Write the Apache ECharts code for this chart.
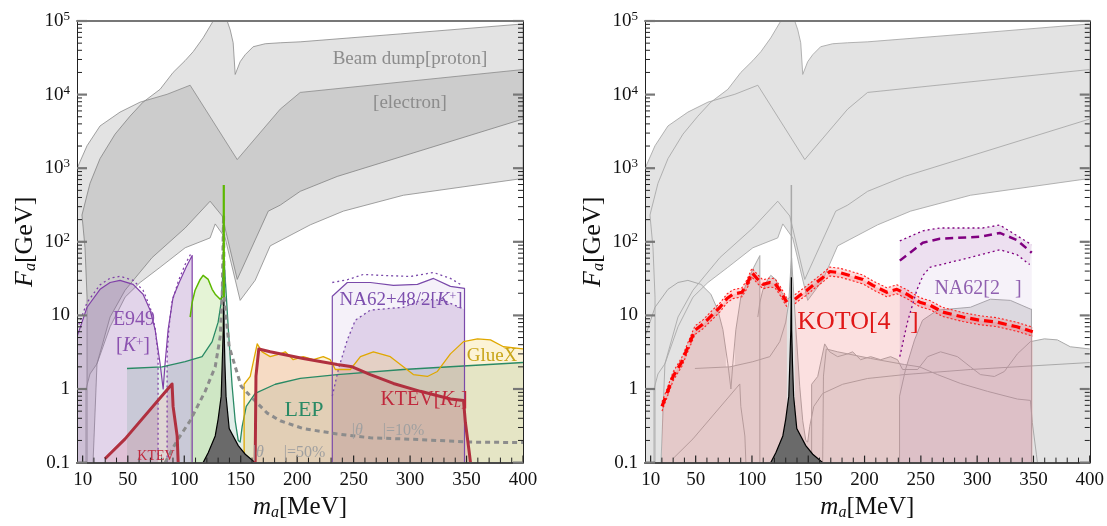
<!DOCTYPE html>
<html><head><meta charset="utf-8">
<script src="https://cdn.jsdelivr.net/npm/echarts@6/dist/echarts.min.js"></script>
<style>html,body{margin:0;background:#fff}#c{width:1107px;height:526px}</style>
</head><body><div id="c"></div>
<script>
// ---------- tick labels ----------
const xMajor = [10, 50, 100, 150, 200, 250, 300, 350, 400];
const yMajor = [0.1, 1, 10, 100, 1000, 10000, 100000];

// ---------- beam dump regions [m (MeV), F (GeV)] ----------
const protonUpper = [[13.9,0.1],[13.9,17.7],[12.1,83],[9.4,231],[16.5,622],[25.4,1350],[38.7,2900],[52,5100],[63.5,7900],[78.6,11800],[90.1,20000],[100.8,29000],[107.9,38300],[116.7,59000],[125.6,100000],[138,100000],[140.7,75700],[143.3,50600],[145.1,18800],[149.5,28000],[154,34900],[161,44700],[171.7,49100],[185,50600],[202.7,52100],[291.4,66800],[400,91200]];
const protonLower = [[400,4660],[235.5,773],[202.7,485],[185,315],[174.4,261],[146.9,30.8],[133.6,224],[122.9,356],[100.8,154],[71.5,61],[47.6,22],[34.3,9.5],[22.7,2.2],[19.2,0.1]];
const electronUpper = [[5,990],[13.9,2020],[25.4,3750],[43.1,5780],[60.9,7900],[84.8,10100],[105.2,13400],[146.9,1310],[185,6350],[202.7,10700],[400,21900]];
const electronLower = [[400,726],[294,429],[240.9,261],[211.6,170],[176.1,88],[162.8,30],[149.5,16],[136.2,113],[127.4,175],[122.9,113],[100.8,83],[78.6,45],[60.9,28],[47.6,17.7],[34.3,7],[22.7,2.2],[16.5,1.6],[13,1.0],[13,0.1],[5,0.1]];

// ---------- E949 [K+] ----------
const e949Solid = [[5,5.1],[13.9,12.9],[25.4,22.6],[34.3,28],[43.1,29.9],[54.7,26.4],[63.5,19.4],[69.7,11.8],[74.2,6.4],[78.6,2.2],[81.3,1.0],[83,2.2],[85.7,6.4],[90.1,17.7],[96.3,29.9],[101.6,45],[107,65],[107,0.1]];
const e949LobeL = [[5,0.1],[5,5.1],[13.9,12.9],[25.4,22.6],[34.3,28],[43.1,29.9],[54.7,26.4],[63.5,19.4],[69.7,11.8],[74.2,6.4],[76.8,3.5],[76.8,0.1]];
const e949LobeR = [[84.8,0.1],[84.8,4],[85.7,6.4],[90.1,17.7],[96.3,29.9],[101.6,45],[107,65],[107,0.1]];
const e949DotL = [[5,6.5],[13.9,15],[25.4,26],[34.3,32],[43.1,34],[54.7,30],[63.5,22],[69.7,13],[74,7],[76.8,3],[76.8,0.1]];
const e949DotR = [[84.8,0.1],[84.8,3],[86.5,7],[89,15],[95,30],[101,50],[106.5,72]];

// ---------- LEP, green, GlueX, KTEV ----------
const lepLine = [[49.3,1.9],[80.4,2.0],[100.8,2.35],[115.8,2.75],[124.7,4.4],[130,8.1],[132.7,15],[134.5,45],[135.2,60],[136.2,33],[138.9,7],[142.4,1.09],[145.1,0.37],[147.8,0.2],[149.5,0.19],[151.3,0.31],[154.9,0.58],[162.8,0.87],[180.6,1.16],[202.7,1.39],[235.5,1.57],[294,1.84],[400,2.29]];
const greenLine = [[105.2,9.5],[107,15],[109.6,22],[114.1,30.8],[116.7,35],[121.2,30.8],[124.7,22.6],[127.4,19.4],[131.8,16.6],[133.6,17.7],[135,17.7]];
const greenPeak = [[135,17.7],[135,590]];
const gluexLine = [[153,0.1],[153,1.16],[158.4,1.48],[164.6,4.1],[169,3.2],[176.1,2.75],[185,3.0],[189.4,3.2],[196.5,2.5],[205.4,2.75],[214.3,2.5],[223.1,2.75],[229.3,2.5],[233.8,1.84],[247.1,1.84],[256,2.75],[267.5,3.2],[282.5,2.75],[294,2.0],[302.9,1.57],[315.3,1.48],[324.2,1.73],[335.7,3.0],[347.3,4.4],[359.7,4.8],[371.2,4.65],[382.7,3.75],[400,3.5]];
const ktevSmall = [[29.8,0.113],[47.6,0.21],[89.2,1.17],[90.1,0.58],[93.7,0.23],[94.6,0.1]];
const ktevKL = [[162.8,0.1],[163.5,1.5],[166,3.5],[176.1,3.2],[205.4,2.6],[235.5,2.15],[248.8,2.0],[264.8,1.57],[285.2,1.19],[309.1,0.93],[335.7,0.73],[347.3,0.70],[349,0.35],[352.6,0.13],[353.5,0.1]];
const thetaLine = [[83,0.1],[93.7,0.2],[105.2,0.37],[118.5,0.93],[127.4,2.0],[131.8,5.1],[133.6,17.7],[134.8,230],[135.3,17.7],[139.8,3.75],[150.4,1.09],[161,0.73],[173.5,0.47],[185,0.37],[205.4,0.29],[235.5,0.245],[264.8,0.217],[294,0.21],[324.2,0.2],[353.5,0.19],[400,0.187]];

// ---------- NA62+48/2 [K+] ----------
const na62Solid = [[231.1,0.1],[231.1,18.2],[244.4,28],[264.8,28],[285.2,25.6],[306.5,26.4],[320.7,31.8],[335.7,24.8],[348.2,23.3],[348.2,0.1]];
const na62DotOuter = [[231.1,28],[244.4,30.5],[258.6,36],[273.7,35],[300.3,33.8],[320.7,38.3],[335.7,31.8],[344.6,26.4]];
const na62DotInner = [[231.1,0.8],[236.4,1.84],[244.4,4.65],[251.5,8.6],[264.8,11.8],[294,12.9],[311.8,16.6],[329.5,16],[347.3,12.2]];

// ---------- pion pole ----------
const pionPeak = [[116.7,0.1],[121.2,0.136],[127.4,0.23],[130,0.39],[132.7,0.8],[133.6,2.2],[134.5,6.3],[135,33],[135.3,6.3],[136,2.2],[137,0.8],[139.8,0.29],[147.8,0.17],[154,0.13],[162.8,0.1]];

// ---------- KOTO [4 gamma] (right panel) ----------
const kotoA = [[20.1,0.58],[24.5,0.87],[29.9,1.48],[37.8,2.35],[43.2,3.75],[49.4,6.3],[56.5,7.6],[65.4,10.4],[71.6,12.9],[77.8,17],[83.1,19.4],[91.1,20.6],[95.5,26.4],[100,38],[105.3,30.8],[109.7,26.4],[116,28],[120.4,27.3],[124.8,21.9],[129.3,16.6],[131,15.1]];
const kotoAHi = [[20.1,0.67],[24.5,1.0],[29.9,1.7],[37.8,2.7],[43.2,4.3],[49.4,7.2],[56.5,8.7],[65.4,12],[71.6,14.8],[77.8,19.5],[83.1,22.3],[91.1,23.7],[95.5,30.4],[100,43.7],[105.3,35.4],[109.7,30.4],[116,32.2],[120.4,31.4],[124.8,25.2],[129.3,19.1],[131,17.4]];
const kotoALo = [[20.1,0.5],[24.5,0.76],[29.9,1.29],[37.8,2.04],[43.2,3.26],[49.4,5.5],[56.5,6.6],[65.4,9.0],[71.6,11.2],[77.8,14.8],[83.1,16.9],[91.1,17.9],[95.5,23],[100,33],[105.3,26.8],[109.7,23],[116,24.3],[120.4,23.7],[124.8,19],[129.3,14.4],[131,13.1]];
const kotoB = [[138.1,16.6],[142.6,18.8],[148.8,21.9],[154.1,25.6],[163,32.8],[169.2,39.5],[178.1,38],[187,34.8],[198.5,30.8],[207.4,25.6],[219.8,20.6],[228.7,22.6],[237.6,19.4],[249.1,15.1],[258,13.8],[269.5,11.1],[287.3,9.5],[302.3,8.6],[317.4,8.1],[335.2,7.0],[349.4,6.0]];
const kotoBHi = [[138.1,19.1],[142.6,21.6],[148.8,25.2],[154.1,29.4],[163,37.7],[169.2,45.4],[178.1,43.7],[187,40],[198.5,35.4],[207.4,29.4],[219.8,23.7],[228.7,26],[237.6,22.3],[249.1,17.4],[258,15.9],[269.5,12.8],[287.3,10.9],[302.3,9.9],[317.4,9.3],[335.2,8.05],[349.4,6.9]];
const kotoBLo = [[138.1,14.4],[142.6,16.3],[148.8,19],[154.1,22.3],[163,28.5],[169.2,34.3],[178.1,33],[187,30.3],[198.5,26.8],[207.4,22.3],[219.8,17.9],[228.7,19.7],[237.6,16.9],[249.1,13.1],[258,12],[269.5,9.65],[287.3,8.26],[302.3,7.48],[317.4,7.04],[335.2,6.09],[349.4,5.22]];

// ---------- NA62 [2 gamma] (right panel) ----------
const na62gMain = [[231.3,55.5],[251.7,97],[266.8,110],[302.3,117],[320.1,132],[335.2,106],[348.5,71]];
const na62gHi = [[231.3,103],[251.7,141],[266.8,154],[305,154],[320.1,169],[348.5,91]];
const na62gLo = [[231.3,2.75],[238,8],[246.4,22],[252,35],[258,45],[264.2,47.5],[293.5,61],[320.1,78],[335.2,67],[346.7,49]];

// ================= build =================
const FF = 'Liberation Serif';
const AX = [{x:0, y:0}, {x:2, y:2}];
const series = [];
function closeDown(line){ return [[line[0][0],0.1]].concat(line).concat([[line[line.length-1][0],0.1]]); }
function shape(panel, pts, kind, style){
  series.push({
    type:'custom', xAxisIndex:AX[panel].x, yAxisIndex:AX[panel].y, clip:true, silent:true,
    data: pts,
    renderItem: function(params, api){
      if (params.dataIndex !== 0) return null;
      const c = pts.map(function(p){ return api.coord(p); });
      return {type: kind, shape:{points:c}, style: style};
    }
  });
}
function area(panel, pts, fill, stroke, lw){ shape(panel, pts, 'polygon', {fill:fill, stroke:stroke||null, lineWidth:lw||0}); }
function line(panel, pts, stroke, lw, dash){ shape(panel, pts, 'polyline', {fill:null, stroke:stroke, lineWidth:lw, lineDash:dash||null, lineJoin:'round'}); }
// tick marks: each one a short segment starting at an axis value, drawn with the axis scale
function ticks(panel, pts, dx, dy, color, w){
  series.push({
    type:'custom', xAxisIndex:AX[panel].x, yAxisIndex:AX[panel].y, clip:false, silent:true, z:20,
    data: pts,
    renderItem: function(params, api){
      if (params.dataIndex !== 0) return null;
      const kids = pts.map(function(p){
        const c = api.coord(p);
        return {type:'polyline', shape:{points:[[c[0], c[1]], [c[0]+dx, c[1]+dy]]}, style:{stroke:color, lineWidth:w, fill:null}};
      });
      return {type:'group', children:kids};
    }
  });
}

const proton = protonUpper.concat(protonLower);
const electron = electronUpper.concat(electronLower);
const na62Inner = [[231.1,0.1]].concat(na62DotInner).concat([[348.2,12.2],[348.2,0.1]]);

// ----- left panel -----
area(0, proton, 'rgba(100,100,100,0.18)', '#8a8a8a', 0.8);
area(0, electron, 'rgba(100,100,100,0.18)', '#8a8a8a', 0.8);
area(0, e949LobeL, 'rgba(150,100,180,0.28)');
area(0, e949LobeR, 'rgba(150,100,180,0.28)');
area(0, na62Solid, 'rgba(160,120,200,0.10)');
area(0, na62Inner, 'rgba(150,100,180,0.22)');
area(0, closeDown(lepLine), 'rgba(60,140,110,0.15)');
area(0, closeDown(greenLine), 'rgba(150,210,90,0.25)');
area(0, gluexLine.concat([[400,0.1]]), 'rgba(240,200,70,0.22)');
area(0, closeDown(ktevSmall), 'rgba(210,80,90,0.14)');
area(0, ktevKL, 'rgba(210,80,90,0.14)');
line(0, e949Solid, '#8040a8', 1.2);
line(0, e949DotL, '#8040a8', 1.3, [2,3]);
line(0, e949DotR, '#8040a8', 1.3, [2,3]);
line(0, lepLine, '#2a8a65', 1.3);
line(0, greenLine, '#5cb800', 1.5);
line(0, na62Solid, '#7a4aaa', 1.2);
line(0, na62DotOuter, '#7a4aaa', 1.3, [2,3]);
line(0, na62DotInner, '#7a4aaa', 1.3, [2,3]);
line(0, gluexLine, '#e0a800', 1.3);
area(0, pionPeak, '#6a6a6a', '#000', 1.2);
line(0, thetaLine, '#8c8c8c', 3, [5,4]);
line(0, greenPeak, '#5cb800', 2.2);
line(0, ktevSmall, '#b0303f', 3);
line(0, ktevKL, '#b0303f', 3);

// ----- right panel -----
const G = '#e3e3e3', GL = '#a9a9a9';
area(1, proton, G); area(1, electron, G);
area(1, e949LobeL, G); area(1, e949LobeR, G);
area(1, closeDown(lepLine), G); area(1, closeDown(greenLine), G);
area(1, gluexLine.concat([[400,0.1]]), G);
area(1, closeDown(ktevSmall), G); area(1, ktevKL, G); area(1, na62Inner, G);
area(1, proton, 'none', GL, 0.9); area(1, electron, 'none', GL, 0.9);
line(1, e949Solid, GL, 1); line(1, lepLine, GL, 1); line(1, greenLine, GL, 1);
line(1, greenPeak, GL, 1.5); line(1, gluexLine, GL, 1);
line(1, ktevSmall, GL, 1); line(1, ktevKL, GL, 1); area(1, na62Inner, 'none', GL, 1);
area(1, closeDown(kotoA), 'rgba(235,100,100,0.2)');
area(1, closeDown(kotoB), 'rgba(235,100,100,0.2)');
area(1, [[231.3,0.1]].concat(na62gHi).concat([[348.5,0.1]]), 'rgba(160,110,190,0.09)');
area(1, na62gHi.concat(na62gLo.slice().reverse()), 'rgba(128,0,128,0.07)');
area(1, pionPeak, '#6a6a6a', '#000', 1.2);
area(1, kotoAHi.concat(kotoALo.slice().reverse()), 'rgba(255,60,60,0.18)');
area(1, kotoBHi.concat(kotoBLo.slice().reverse()), 'rgba(255,60,60,0.18)');
line(1, kotoAHi, '#ff2020', 1.1, [2,2]); line(1, kotoALo, '#ff2020', 1.1, [2,2]);
line(1, kotoBHi, '#ff2020', 1.1, [2,2]); line(1, kotoBLo, '#ff2020', 1.1, [2,2]);
line(1, kotoA, '#ff0000', 3.2, [9,5]); line(1, kotoB, '#ff0000', 3.2, [9,5]);
line(1, na62gHi, '#800080', 1.3, [2,3]); line(1, na62gLo, '#800080', 1.3, [2,3]);
line(1, na62gMain, '#800080', 2.5, [8,5]);

// ----- ticks -----
const xMinor = []; for (let v = 10; v <= 400; v += 10) if (xMajor.indexOf(v) < 0) xMinor.push(v);
const yMinor = []; for (let e = -1; e < 5; e++) for (let k = 2; k <= 9; k++) yMinor.push(k * Math.pow(10, e));
[0,1].forEach(function(p){
  ticks(p, xMajor.map(function(v){ return [v, 0.1]; }), 0, -7, '#222', 1.2);
  ticks(p, xMinor.map(function(v){ return [v, 0.1]; }), 0, -5, '#222', 1);
  ticks(p, yMajor.map(function(v){ return [5, v]; }), 10, 0, '#777', 2.2);
  ticks(p, yMinor.map(function(v){ return [5, v]; }), 5, 0, '#222', 1);
  ticks(p, yMajor.map(function(v){ return [400, v]; }), -10, 0, '#777', 2.2);
  ticks(p, yMinor.map(function(v){ return [400, v]; }), -5, 0, '#222', 1);
});

// ---------- axes ----------
function yFmt(v){ const e = Math.round(Math.log10(v)); if (e === -1) return '{n|0.1}'; if (e === 0) return '{n|1}'; if (e === 1) return '{n|10}'; return '{n|10}{s|' + e + '}'; }
const nameRich = { i:{fontFamily:FF, fontStyle:'italic', fontSize:26, color:'#111', lineHeight:28}, sub:{fontFamily:FF, fontStyle:'italic', fontSize:16, color:'#111', verticalAlign:'bottom', lineHeight:18}, n:{fontFamily:FF, fontSize:26, color:'#111', lineHeight:28} };
const xRich = { i:{fontFamily:FF, fontStyle:'italic', fontSize:25, color:'#111', lineHeight:28}, sub:{fontFamily:FF, fontStyle:'italic', fontSize:16, color:'#111', verticalAlign:'bottom', lineHeight:18}, n:{fontFamily:FF, fontSize:25, color:'#111', lineHeight:28} };
const xAxes = [], yAxes = [];
[0,1].forEach(function(gi){
  const common = {gridIndex:gi, min:5, max:400, splitLine:{show:false}, z:10, axisTick:{show:false}};
  xAxes.push(Object.assign({type:'value', position:'bottom', axisLine:{onZero:false, lineStyle:{color:'#4a4a4a', width:2}},
    axisLabel:{customValues:xMajor, fontFamily:FF, fontSize:19, color:'#111', margin:8},
    name:'{i|m}{sub|a}{n|[MeV]}', nameLocation:'middle', nameGap:30, nameTextStyle:{rich:xRich}}, common));
  xAxes.push(Object.assign({type:'value', position:'top', axisLine:{onZero:false, lineStyle:{color:'#777', width:2}},
    axisLabel:{show:false}}, common));
  const yc = {type:'log', logBase:10, gridIndex:gi, min:0.1, max:100000, splitLine:{show:false}, minorTick:{show:false}, axisTick:{show:false}, z:10};
  yAxes.push(Object.assign({position:'left', axisLine:{onZero:false, lineStyle:{color:'#222', width:1}},
    axisLabel:{customValues:yMajor, formatter:yFmt, margin:7, rich:{n:{fontFamily:FF, fontSize:19, color:'#111', lineHeight:22}, s:{fontFamily:FF, fontSize:13, color:'#111', verticalAlign:'top', lineHeight:12}}},
    name:'{i|F}{sub|a}{n|[GeV]}', nameLocation:'middle', nameGap:38, nameRotate:90, nameTextStyle:{rich:nameRich}}, yc));
  yAxes.push(Object.assign({position:'right', axisLine:{onZero:false, lineStyle:{color:'#222', width:1}},
    axisLabel:{show:false}}, yc));
});

// ---------- text labels ----------
function txt(x, y, text, size, color){
  const base = {fontFamily:FF, fontSize:size, fill:color};
  const r = {
    a: Object.assign({}, base),
    i: Object.assign({}, base, {fontStyle:'italic'}),
    sup: Object.assign({}, base, {fontSize:Math.round(size*0.65), verticalAlign:'top', lineHeight:Math.round(size*0.7)}),
    sub: Object.assign({}, base, {fontStyle:'italic', fontSize:Math.round(size*0.65), verticalAlign:'bottom', lineHeight:Math.round(size*0.7)})
  };
  return {type:'text', x:x, y:y, z:100, silent:true, style:{text:text, font:size + 'px "' + FF + '"', fill:color, textAlign:'center', textVerticalAlign:'middle', align:'center', verticalAlign:'middle', rich:r}};
}
const graphics = [
  txt(410, 59, '{a|Beam dump[proton]}', 19, '#8c8c8c'),
  txt(410, 103, '{a|[electron]}', 19, '#8c8c8c'),
  txt(134, 320, '{a|E949}', 20, '#8b52b0'),
  txt(133, 346, '{a|[}{i|K}{sup|+}{a|]}', 20, '#8b52b0'),
  txt(156, 456, '{a|KTEV}', 14, '#c0283c'),
  txt(304, 410, '{a|LEP}', 22, '#2a8a65'),
  txt(424, 400, '{a|KTEV[}{i|K}{sub|L}{a|]}', 20, '#c0283c'),
  txt(492, 356, '{a|GlueX}', 19, '#c8a418'),
  txt(401, 300, '{a|NA62+48/2[}{i|K}{sup|+}{a|]}', 19, '#7d4fae'),
  txt(388, 431, '{a||}{i|θ}{a|     |=10%}', 16, '#a0a0a0'),
  txt(289, 453, '{a||}{i|θ}{a|     |=50%}', 16, '#a0a0a0'),
  txt(858, 322, '{a|KOTO[4   ]}', 26, '#e01818'),
  txt(978, 289, '{a|NA62[2   ]}', 20, '#9060b0')
];

const chart = echarts.init(document.getElementById('c'), null, {renderer:'canvas'});
chart.setOption({
  animation:false,
  backgroundColor:'#fff',
  grid:[{left:77, top:21, width:446, height:446}, {left:645, top:21, width:445, height:446}],
  xAxis:xAxes, yAxis:yAxes, series:series, graphic:graphics
});
</script></body></html>
